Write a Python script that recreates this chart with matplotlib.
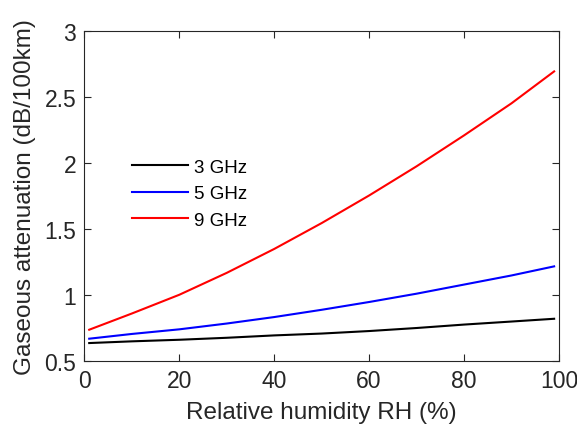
import matplotlib.pyplot as plt

plt.rcParams['font.family'] = ['Liberation Sans', 'DejaVu Sans']

rh = [1, 10, 20, 30, 40, 50, 60, 70, 80, 90, 99]
att_3ghz = [0.636, 0.649, 0.661, 0.676, 0.694, 0.708, 0.727, 0.750, 0.776, 0.799, 0.820]
att_5ghz = [0.669, 0.705, 0.740, 0.784, 0.833, 0.888, 0.947, 1.010, 1.079, 1.148, 1.217]
att_9ghz = [0.737, 0.860, 1.002, 1.168, 1.349, 1.545, 1.754, 1.975, 2.209, 2.452, 2.694]
labels = ['3 GHz', '5 GHz', '9 GHz']

fig = plt.figure(figsize=(5.77, 4.35), dpi=100)
ax = fig.add_axes([0.1464, 0.1678, 0.8222, 0.7586])

ax.plot(rh, att_3ghz, color='black', lw=1.5, label=labels[0])
ax.plot(rh, att_5ghz, color='blue', lw=1.5, label=labels[1])
ax.plot(rh, att_9ghz, color='red', lw=1.5, label=labels[2])

ax.set_xlim(0, 100)
ax.set_ylim(0.5, 3)
ax.set_xticks([0, 20, 40, 60, 80, 100])
ax.set_yticks([0.5, 1, 1.5, 2, 2.5, 3])
ax.set_yticklabels(['0.5', '1', '1.5', '2', '2.5', '3'])

dark = '#262626'
for s in ax.spines.values():
    s.set_color(dark)
    s.set_linewidth(0.8)
ax.tick_params(direction='in', top=True, right=True, length=5, width=0.8,
               colors=dark, labelsize=16.5, labelcolor=dark, pad=6)

ax.set_xlabel('Relative humidity RH (%)', fontsize=17.5, color=dark, labelpad=6)
ax.set_ylabel('Gaseous attenuation (dB/100km)', fontsize=17.5, color=dark, labelpad=6)

ax.legend(loc='upper left', bbox_to_anchor=(0.065, 0.665), frameon=False,
          fontsize=13.5, handlelength=3.0, handletextpad=0.3, labelspacing=0.5)

fig.savefig('out.png', dpi=100)
